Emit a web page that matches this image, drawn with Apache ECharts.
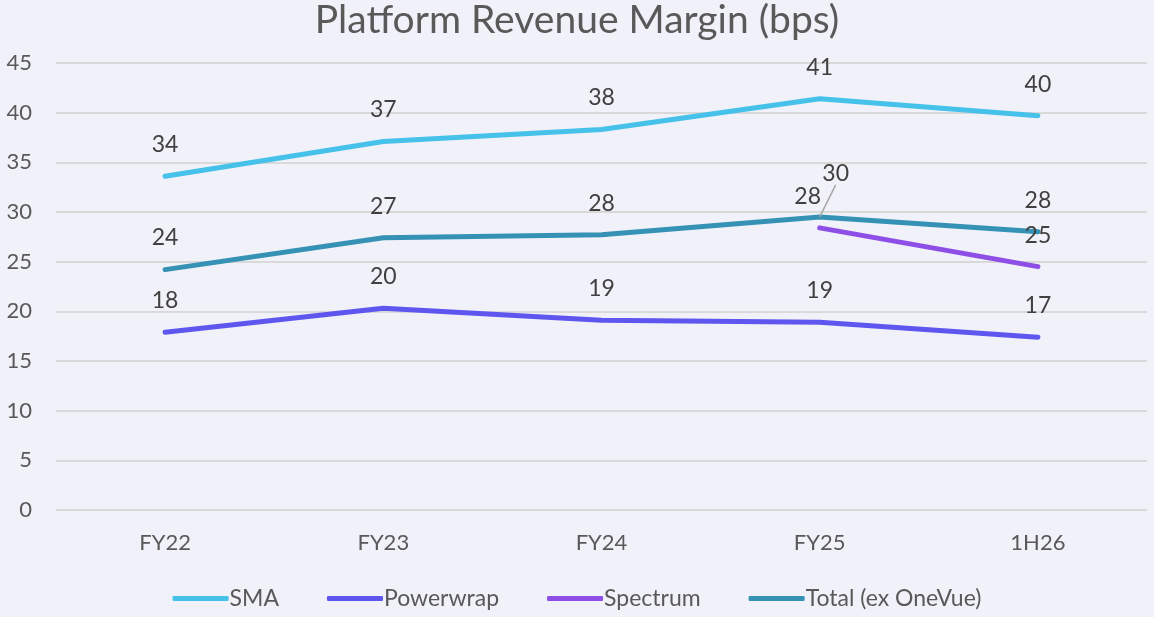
<!DOCTYPE html>
<html>
<head>
<meta charset="utf-8">
<script src="https://cdn.jsdelivr.net/npm/echarts@6/dist/echarts.min.js"></script>
<style>
	html, body { margin: 0; padding: 0; background: #f0f1f9; }
	#chart { width: 1154px; height: 617px; }
</style>
</head>
<body>
<div id="chart"></div>
<script>
// data
var categories = [ 'FY22', 'FY23', 'FY24', 'FY25', '1H26' ];
var smaData = [ 33.6, 37.1, 38.3, 41.4, 39.7 ];
var powerwrapData = [ 17.9, 20.3, 19.1, 18.9, 17.4 ];
var spectrumData = [ null, null, null, 28.4, 24.5 ];
var totalData = [ 24.2, 27.4, 27.7, 29.5, 28.0 ];
var yTicks = [ 0, 5, 10, 15, 20, 25, 30, 35, 40, 45 ];

var fontName = 'Lato, "Open Sans", sans-serif';

function lineSeries(name, data, color, labelOffset) {
	return {
		name : name,
		type : 'line',
		data : data,
		symbol : 'circle',
		symbolSize : 0.1,
		showSymbol : true,
		smooth : false,
		lineStyle : {
			color : color,
			width : 5,
			cap : 'round',
			join : 'round'
		},
		itemStyle : {
			color : color
		},
		label : {
			show : true,
			position : 'top',
			distance : 20,
			color : '#404040',
			fontSize : 23,
			fontFamily : fontName,
			formatter : function(p) {
				var v = p.value;
				if (v != null && typeof v === 'object') {
					v = v.value;
				}
				return v == null ? '' : Math.round(v);
			}
		},
		labelLayout : labelOffset,
		emphasis : { disabled : true }
	};
}

// Total FY25 label is pushed up/right with a small leader line
var totalItems = totalData.map(function(v, i) {
	if (i === 3) {
		return {
			value : v,
			labelLine : {
				show : true,
				lineStyle : { color : '#a6a6a6', width : 1.5 }
			}
		};
	}
	return v;
});

var chart = echarts.init(document.getElementById('chart'));

chart.setOption({
	backgroundColor : '#f0f1f9',
	animation : false,
	title : {
		text : 'Platform Revenue Margin (bps)',
		left : 'center',
		top : -4,
		textStyle : {
			color : '#595959',
			fontSize : 39,
			fontWeight : 'normal',
			fontFamily : fontName
		}
	},
	legend : {
		bottom : 2,
		left : 'center',
		itemWidth : 56,
		itemHeight : 5,
		itemGap : 48,
		icon : 'roundRect',
		textStyle : {
			color : '#595959',
			fontSize : 23,
			fontFamily : fontName,
			padding : [ 0, 0, 0, -4 ]
		},
		data : [ 'SMA', 'Powerwrap', 'Spectrum', 'Total (ex OneVue)' ]
	},
	grid : {
		left : 56,
		right : 7,
		top : 63,
		bottom : 107,
		containLabel : false
	},
	xAxis : {
		type : 'category',
		data : categories,
		boundaryGap : true,
		axisLine : { show : false },
		axisTick : { show : false },
		axisLabel : {
			color : '#595959',
			fontSize : 22,
			fontFamily : fontName,
			margin : 22
		}
	},
	yAxis : {
		type : 'value',
		min : yTicks[0],
		max : yTicks[yTicks.length - 1],
		interval : 5,
		axisLine : { show : false },
		axisTick : { show : false },
		axisLabel : {
			color : '#595959',
			fontSize : 22,
			fontFamily : fontName,
			margin : 24
		},
		splitLine : {
			lineStyle : { color : '#d9d9d9', width : 2 }
		}
	},
	series : [
		lineSeries('SMA', smaData, '#45c1ea'),
		lineSeries('Powerwrap', powerwrapData, '#5e56ee'),
		lineSeries('Spectrum', spectrumData, '#8e4fe6', function(p) {
			// FY25 label sits a bit left, as in the reference
			if (p.dataIndex === 3) {
				return { dx : -12, dy : 0 };
			}
			return {};
		}),
		lineSeries('Total (ex OneVue)', totalItems, '#3592b5', function(p) {
			if (p.dataIndex === 3) {
				return { dx : 16, dy : -12 };
			}
			return {};
		})
	]
});
</script>
</body>
</html>
